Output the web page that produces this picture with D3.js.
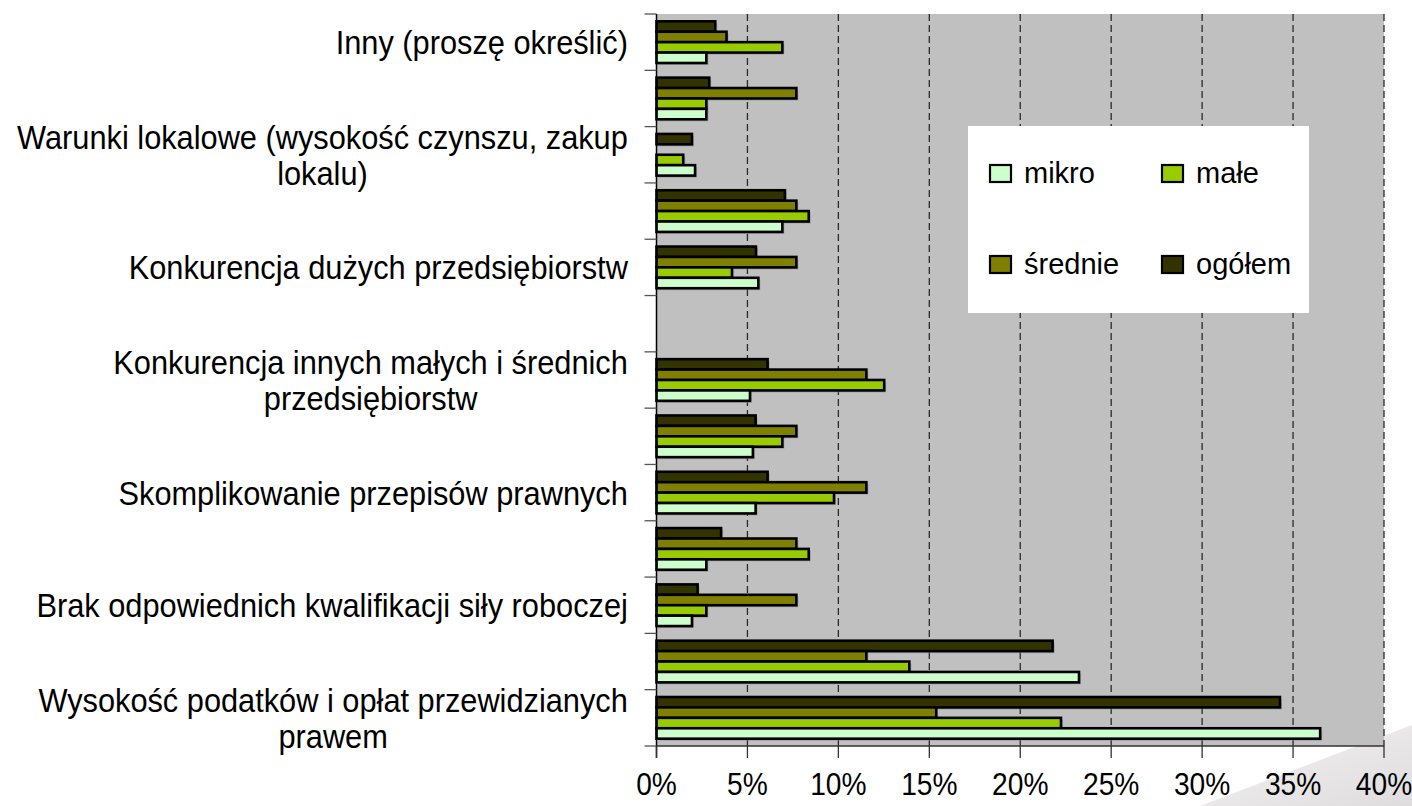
<!DOCTYPE html>
<html><head><meta charset="utf-8">
<script src="https://cdn.jsdelivr.net/npm/d3@7"></script>
<style>
html,body{margin:0;padding:0;background:#fff;}
svg text{font-family:"Liberation Sans",Arial,sans-serif;fill:#000;}
</style></head>
<body><svg id="chart" width="1412" height="806"></svg>
<script>
// ---- data ----
const categories = [
  "Inny (proszę określić)",
  "(kategoria 2)",
  "Warunki lokalowe (wysokość czynszu, zakup\nlokalu)",
  "(kategoria 4)",
  "Konkurencja dużych przedsiębiorstw",
  "(kategoria 6)",
  "Konkurencja innych małych i średnich\nprzedsiębiorstw",
  "(kategoria 8)",
  "Skomplikowanie przepisów prawnych",
  "(kategoria 10)",
  "Brak odpowiednich kwalifikacji siły roboczej",
  "(kategoria 12)",
  "Wysokość podatków i opłat przewidzianych\nprawem"
];
const seriesNames = ["mikro", "małe", "średnie", "ogółem"];
const seriesColors = ["#CCFFCC", "#99CC00", "#808000", "#333300"];
const mikro   = [2.74, 2.74, 2.12, 6.92, 5.60, 0, 5.14, 5.30, 5.45, 2.74, 1.95, 23.23, 36.49];
const male    = [6.92, 2.74, 1.47, 8.37, 4.15, 0, 12.52, 6.92, 9.76, 8.37, 2.74, 13.90, 22.24];
const srednie = [3.85, 7.69, 0, 7.69, 7.69, 0, 11.54, 7.69, 11.54, 7.69, 7.69, 11.54, 15.38];
const ogolem  = [3.23, 2.90, 1.95, 7.06, 5.47, 0, 6.11, 5.45, 6.11, 3.55, 2.26, 21.78, 34.28];
const xTicks = [0, 5, 10, 15, 20, 25, 30, 35, 40];
const xTickLabels = ["0%", "5%", "10%", "15%", "20%", "25%", "30%", "35%", "40%"];

const seriesValues = [mikro, male, srednie, ogolem];

// ---- layout ----
const svg = d3.select("#chart");
const L = 656.5, R = 1384, T = 14, B = 746;

// decorative background shape
const defs = svg.append("defs");
const grad = defs.append("linearGradient").attr("id","deco").attr("x1","0").attr("y1","0").attr("x2","1").attr("y2","1");
grad.append("stop").attr("offset","0").attr("stop-color","#f5f3f3");
grad.append("stop").attr("offset","1").attr("stop-color","#dedcdc");
svg.append("path").attr("d","M1200,806 L1412,725 L1412,806 Z").attr("fill","url(#deco)");

const x = d3.scaleLinear().domain([0, 40]).range([L, R]);
const y = d3.scaleBand().domain(d3.range(categories.length)).range([T, B]).padding(0);
const bw = y.bandwidth();
const drawOrder = [3, 2, 1, 0]; // ogółem on top, mikro at bottom within a group
const y1 = d3.scaleBand().domain(drawOrder).range([bw * 0.13, bw * 0.87]).padding(0);

// plot background
svg.append("rect").attr("x", L).attr("y", T).attr("width", R - L).attr("height", B - T).attr("fill", "#C0C0C0");

// gridlines
svg.append("g").selectAll("line").data(xTicks.filter(d => d > 0)).join("line")
  .attr("x1", d => x(d)).attr("x2", d => x(d)).attr("y1", T).attr("y2", B)
  .attr("stroke", "#2a2a2a").attr("stroke-width", 1.3).attr("stroke-dasharray", "7,4");

// bars
const groups = svg.append("g").selectAll("g").data(d3.range(categories.length)).join("g")
  .attr("transform", i => `translate(0,${y(i)})`);
const barData = i => drawOrder.map(s => ({s, v: seriesValues[s][i]})).filter(d => d.v > 0);
groups.selectAll("rect.sh").data(barData).join("rect").attr("class","sh")
  .attr("x", x(0) + 2)
  .attr("y", d => y1(d.s) + 2)
  .attr("width", d => x(d.v) - x(0))
  .attr("height", y1.bandwidth())
  .attr("fill", "#8a8a8a").attr("opacity", 0.6);
groups.selectAll("rect.bar").data(barData).join("rect").attr("class","bar")
  .attr("x", x(0))
  .attr("y", d => y1(d.s))
  .attr("width", d => x(d.v) - x(0))
  .attr("height", y1.bandwidth())
  .attr("fill", d => seriesColors[d.s])
  .attr("stroke", "#000").attr("stroke-width", 2.6);

// y axis
const yAxis = svg.append("g");
yAxis.append("line").attr("x1", L).attr("x2", L).attr("y1", T).attr("y2", B + 12).attr("stroke", "#000").attr("stroke-width", 1.5);
yAxis.selectAll("line.tick").data(d3.range(categories.length + 1)).join("line").attr("class","tick")
  .attr("x1", L - 12).attr("x2", L).attr("y1", i => T + i * bw).attr("y2", i => T + i * bw)
  .attr("stroke", "#555").attr("stroke-width", 1.3);

// category labels (every other, as in the original)
const fs = 34, sx = 0.905, lh = 36;
const labG = yAxis.selectAll("g.lab").data(d3.range(categories.length).filter(i => i % 2 === 0)).join("g").attr("class","lab");
labG.each(function(i) {
  const g = d3.select(this);
  const lines = categories[i].split("\n");
  const t = g.append("text").attr("font-size", fs).attr("text-anchor", "middle");
  lines.forEach((ln, k) => t.append("tspan").attr("x", 0).attr("dy", k === 0 ? 0 : lh).text(ln));
  let w = 0;
  t.selectAll("tspan").each(function(){ w = Math.max(w, this.getComputedTextLength()); });
  const cy = y(i) + bw / 2;
  const totalH = (lines.length - 1) * lh;
  g.attr("transform", `translate(${628 - w * sx / 2},${cy - totalH / 2 + fs * 0.35}) scale(${sx},1)`);
});

// x axis
const xAxis = svg.append("g");
xAxis.append("line").attr("x1", L).attr("x2", R).attr("y1", B).attr("y2", B).attr("stroke", "#333").attr("stroke-width", 1.3);
xAxis.selectAll("line.tick").data(xTicks).join("line").attr("class","tick")
  .attr("x1", d => x(d)).attr("x2", d => x(d)).attr("y1", B).attr("y2", B + 12)
  .attr("stroke", "#333").attr("stroke-width", 1.3);
xAxis.selectAll("text").data(xTicks).join("text")
  .attr("transform", (d) => `translate(${x(d)},795) scale(0.88,1)`)
  .attr("text-anchor", "middle").attr("font-size", 32)
  .text((d, k) => xTickLabels[k]);

// legend
const lg = svg.append("g");
lg.append("rect").attr("x", 968).attr("y", 126).attr("width", 341).attr("height", 187).attr("fill", "#fff");
const legPos = [[990, 165], [1162, 165], [990, 256], [1162, 256]];
seriesNames.forEach((n, k) => {
  const [lx, ly] = legPos[k];
  lg.append("rect").attr("x", lx).attr("y", ly).attr("width", 21).attr("height", 17)
    .attr("fill", seriesColors[k]).attr("stroke", "#000").attr("stroke-width", 2.2);
  lg.append("text").attr("x", lx + 34).attr("y", ly + 18).attr("font-size", 29).text(n);
});
</script></body></html>
